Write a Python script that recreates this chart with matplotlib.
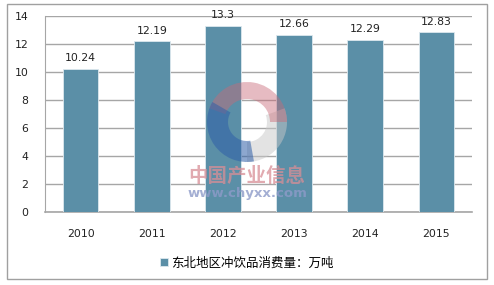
import matplotlib.pyplot as plt
from matplotlib.patches import Rectangle, Wedge

plt.rcParams['font.family'] = ['Noto Sans CJK SC', 'DejaVu Sans']

years = ['2010', '2011', '2012', '2013', '2014', '2015']
values = [10.24, 12.19, 13.3, 12.66, 12.29, 12.83]
series_name = '东北地区冲饮品消费量：万吨'
yticks = [0, 2, 4, 6, 8, 10, 12, 14]

bar_color = '#5b8fa7'
grid_color = '#a6a6a6'

fig = plt.figure(figsize=(4.94, 2.85), dpi=100)
fig.patch.set_facecolor('white')
fig.patches.append(Rectangle((7 / 494, 6 / 285), 480 / 494, 275 / 285,
                             transform=fig.transFigure, fill=False,
                             edgecolor='#a0a0a0', linewidth=1.0))

ax = fig.add_axes([45 / 494, 73 / 285, 427 / 494, 196 / 285])
x = range(len(years))
bars = ax.bar(x, values, width=0.5, color=bar_color, edgecolor='#dde8ee',
              linewidth=0.6, zorder=3, label=series_name)

for xi, v in zip(x, values):
    ax.annotate('%g' % v, (xi, v), xytext=(0, 4), textcoords='offset points',
                ha='center', va='bottom', fontsize=7.8, color='#222222',
                family='DejaVu Sans', zorder=5)

ax.set_xlim(-0.5, len(years) - 0.5)
ax.set_ylim(0, 14)
ax.set_yticks(yticks)
ax.set_xticks(list(x))
ax.set_xticklabels(years, family='DejaVu Sans', fontsize=7.8)
ax.set_yticklabels([str(t) for t in yticks], family='DejaVu Sans', fontsize=7.8)
ax.tick_params(axis='both', length=0, colors='#222222')
ax.tick_params(axis='x', pad=12)
ax.tick_params(axis='y', pad=12)
ax.yaxis.grid(True, color=grid_color, linewidth=1.0, zorder=0)
ax.set_axisbelow(True)
for s in ['top', 'right']:
    ax.spines[s].set_visible(False)
ax.spines['left'].set_color(grid_color)
ax.spines['bottom'].set_color(grid_color)
ax.spines['bottom'].set_linewidth(1.2)

# watermark logo, drawn in pixel coordinates on an overlay (y points down,
# so wedge angles run clockwise on screen)
wm = fig.add_axes([0, 0, 1, 1], zorder=10)
wm.set_xlim(0, 494)
wm.set_ylim(285, 0)
wm.axis('off')
cx, cy = 247, 122
wm.add_patch(Wedge((cx, cy), 40, 340, 450, width=20, color='#c8c8c8', alpha=0.5, lw=0))
wm.add_patch(Wedge((cx, cy), 40, 200, 360, width=17, color='#c96a78', alpha=0.45, lw=0))
wm.add_patch(Wedge((cx, cy), 40, 80, 210, width=21, color='#2f5fa8', alpha=0.55, lw=0))
wm.text(cx, 176, '中国产业信息', ha='center', va='center', fontsize=14,
        color='#d88e96', alpha=0.75, weight='bold')
wm.text(cx, 194, 'www.chyxx.com', ha='center', va='center', fontsize=9.5,
        color='#8e9bc9', alpha=0.8, weight='bold', family='DejaVu Sans')

fig.legend(handles=[bars], labels=[series_name], loc='center',
           bbox_to_anchor=(0.5, 22 / 285), frameon=False, fontsize=9,
           handlelength=0.6, handleheight=0.6, handletextpad=0.3)

fig.savefig('out.png', dpi=100)
